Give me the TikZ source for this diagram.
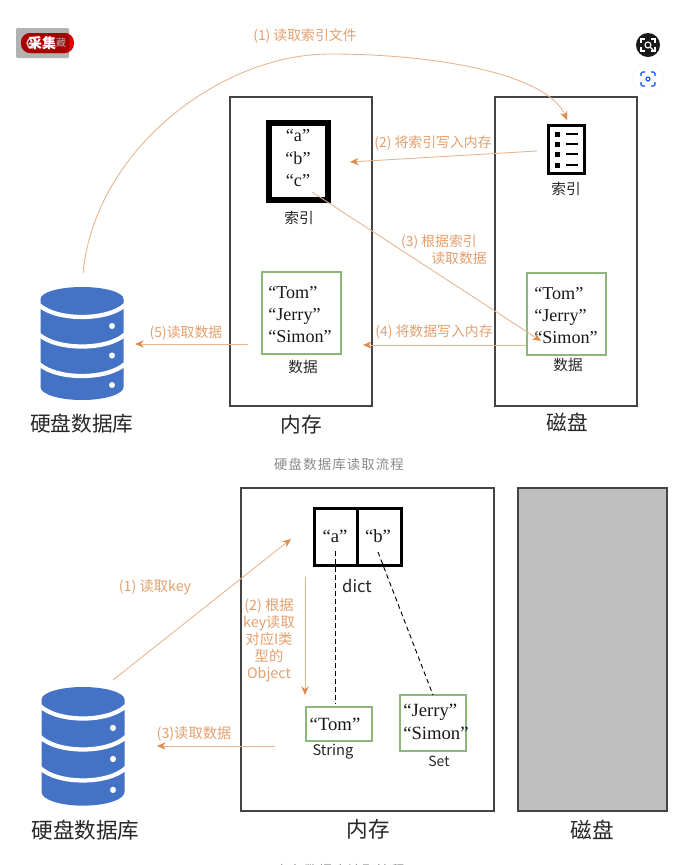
\documentclass[tikz,border=0pt]{standalone}
\usepackage{fontspec}
\usetikzlibrary{arrows.meta}
\setmainfont{Noto Sans CJK SC}
\newfontfamily\quotefont{Liberation Serif}
\definecolor{flow}{HTML}{E08A4C}
\definecolor{flowline}{HTML}{E8B48C}
\definecolor{flowtext}{HTML}{E3A06E}
\definecolor{boxline}{HTML}{444444}
\definecolor{greenbox}{HTML}{8DB67A}
\definecolor{dbblue}{HTML}{4472C4}
\definecolor{captiongray}{HTML}{8A8A8A}
\tikzset{
  flowarrow/.style={draw=flowline, line width=0.65pt, -{Stealth[length=6.5pt,width=5.5pt,color=flow]}},
  region/.style={draw=boxline, line width=0.9pt, fill=white},
  thickbox/.style={draw=black, line width=4.5pt, fill=white},
  databox/.style={draw=greenbox, line width=0.9pt, fill=white},
  flowlabel/.style={text=flowtext, font=\fontsize{10.4}{12}\selectfont, inner sep=0pt, align=center, text height=8.5pt, text depth=2pt, yshift=-1.2pt},
  flowlabelb/.style={flowlabel, font=\fontsize{10.7}{12}\selectfont},
  biglabel/.style={text=black!85, font=\fontsize{15.5}{18}\selectfont, inner sep=0pt, yshift=-0.6pt},
  biglabelb/.style={biglabel, font=\fontsize{16.2}{18}\selectfont},
  smalllabel/.style={text=black!85, font=\fontsize{11}{13}\selectfont, inner sep=0pt, yshift=-0.5pt},
  quoted/.style={text=black!90, font=\quotefont\fontsize{13.6}{15}\selectfont, inner sep=0pt, text height=9pt, text depth=3pt, yshift=-1.4pt},
  quotedb/.style={quoted, font=\quotefont\fontsize{14}{15}\selectfont},
  caption/.style={text=captiongray, font=\fontsize{10}{12}\selectfont\addfontfeatures{LetterSpace=9}, inner sep=0pt},
  dblink/.style={draw=black, line width=0.7pt, dash pattern=on 3.5pt off 2.5pt},
  pics/dbicon/.style={code={
    \fill[dbblue] (-41.5,12) -- (-41.5,100) arc[start angle=180,end angle=360,x radius=41.5,y radius=-13] -- (41.5,12) -- cycle;
    \foreach \dy in {0,29.5,59}{
      \draw[white,line width=3.2pt] (-43,\dy+18) .. controls (-25,\dy+34) and (25,\dy+34) .. (43,\dy+18);
    }
    \fill[dbblue] (0,12) ellipse[x radius=41.5,y radius=12];
    \foreach \dy in {39,68.5,98}{
      \fill[white] (30,\dy) circle[radius=3];
    }
  }}
}
\begin{document}
\begin{tikzpicture}[x=0.75pt,y=-0.75pt]
\useasboundingbox (0,0) rectangle (690,865);
\clip (0,0) rectangle (690,865);
\fill[white] (0,0) rectangle (690,865);

% overlay badge and buttons
\fill[black!30,rounded corners=1pt] (16,28) rectangle (69,58);
\fill[red!88!black,rounded corners=7pt] (21,33) rectangle (74,53);
\begin{scope}
\clip (16,28) rectangle (69,58);
\fill[red!65!black,rounded corners=7pt] (21,33) rectangle (74,53);
\end{scope}
\draw[black!20,line width=1pt] (32,43) circle[radius=5];
\node[inner sep=0pt,text=white,font=\fontsize{10.5}{12}\selectfont\bfseries] (badge) at (42,43) {采集};
\node[inner sep=0pt,text=black!30,font=\fontsize{7.5}{8}\selectfont] (badgeb) at (61,43) {藏};
\fill[black!90] (648,45) circle[radius=12];
\draw[white,line width=0.8pt] (648,45) circle[radius=3];
\draw[white,line width=0.8pt] (650.5,47.5) -- (653,50);
\draw[white,line width=0.8pt] (641,43) -- (641,39) -- (645,39) (651,39) -- (655,39) -- (655,43) (655,47) -- (655,51) -- (651,51) (645,51) -- (641,51) -- (641,47);
\fill[black!3] (648,79) circle[radius=16];
\fill[white] (648,79) circle[radius=15];
\draw[blue!70!cyan,line width=0.8pt,rounded corners=1pt] (641,76) -- (641,72) -- (645,72) (651,72) -- (655,72) -- (655,76) (655,82) -- (655,86) -- (651,86) (645,86) -- (641,86) -- (641,82);
\draw[blue!70!cyan,line width=0.8pt] (648,79) circle[radius=2];

% === top diagram ===
\draw[region] (230,97) rectangle (372,406);
\draw[region] (495,97) rectangle (637,406);

\pic at (82,287) {dbicon};
\node[biglabel] (dblabel1) at (82,423) {硬盘数据库};
\node[biglabel] (memlabel1) at (301,424) {内存};
\node[biglabel] (disklabel1) at (567,422) {磁盘};
\node[caption] (cap1) at (339,464) {硬盘数据库读取流程};

% memory index
\draw[thickbox] (269,123) rectangle (328,200);
\node[quoted] (qa) at (298,136) {“a”};
\node[quoted] (qb) at (298,158.5) {“b”};
\node[quoted] (qc) at (298,180.5) {“c”};
\node[smalllabel] (idx1) at (299,217) {索引};

% memory data
\draw[databox] (262,272) rectangle (341,354);
\node[quoted,anchor=west] (mt) at (268,293) {“Tom”};
\node[quoted,anchor=west] (mj) at (268,315) {“Jerry”};
\node[quoted,anchor=west] (ms) at (268,337) {“Simon”};
\node[smalllabel] (dat1) at (303,366) {数据};

% disk index icon
\draw[draw=black,line width=2.6pt,fill=white] (548.7,125.7) rectangle (584.3,173.3);
\foreach \yy in {134,144,154,165}{
  \fill[black] (555,\yy-2.5) rectangle (560,\yy+2.5);
  \draw[black,line width=1.3pt] (566,\yy) -- (578,\yy);
}
\node[smalllabel] (idx2) at (566,188) {索引};

% disk data
\draw[databox] (527,273) rectangle (606,355);
\node[quoted,anchor=west] (dt) at (534,294) {“Tom”};
\node[quoted,anchor=west] (dj) at (534,316) {“Jerry”};
\node[quoted,anchor=west] (ds) at (534,338) {“Simon”};
\node[smalllabel] (dat2) at (568,364) {数据};

% top connectors
\coordinate (c1s) at (83,273);
\coordinate (c1m) at (330,54);
\coordinate (c1e) at (567,120);
\draw[flowarrow] (c1s) .. controls (95,150) and (220,54) .. (c1m) .. controls (440,54) and (548,75) .. (c1e);
\coordinate (c2s) at (537,151);
\coordinate (c2e) at (350,162);
\draw[flowarrow] (c2s) -- (c2e);
\coordinate (c3s) at (312,192);
\coordinate (c3e) at (541,341);
\draw[flowarrow] (c3s) -- (c3e);
\coordinate (c4s) at (526,345);
\coordinate (c4e) at (363,345);
\draw[flowarrow] (c4s) -- (c4e);
\coordinate (c5s) at (248,344);
\coordinate (c5e) at (135,344);
\draw[flowarrow] (c5s) -- (c5e);

\node[flowlabel] (l1) at (305,35) {(1) 读取索引文件};
\node[flowlabel] (l2) at (433,142) {(2) 将索引写入内存};
\node[flowlabel] (l3a) at (439,241) {(3) 根据索引};
\node[flowlabel] (l3b) at (459,258) {读取数据};
\node[flowlabel] (l4) at (434,331) {(4) 将数据写入内存};
\node[flowlabel] (l5) at (186,332) {(5)读取数据};

% === bottom diagram ===
\draw[region] (241,488) rectangle (494,811);
\draw[draw=boxline,line width=0.9pt,fill=black!25] (518,488) rectangle (667,811);
\pic[yscale=1.05] at (83,687) {dbicon};
\node[biglabelb] (dblabel2) at (85.5,829) {硬盘数据库};
\node[biglabelb] (memlabel2) at (368,829) {内存};
\node[biglabelb] (disklabel2) at (592,829) {磁盘};
\node[caption] (cap2) at (340,870) {内存数据库读取流程};

% dict
\draw[thickbox,line width=2.6pt] (314.7,508.7) rectangle (401.3,565.3);
\draw[black,line width=2.6pt] (357.5,508.7) -- (357.5,565.3);
\node[quotedb] (ka) at (335,537) {“a”};
\node[quotedb] (kb) at (378,537) {“b”};
\node[smalllabel,font=\fontsize{12.5}{14}\selectfont] (dictl) at (357,585) {dict};

% objects
\draw[databox] (306,707) rectangle (372,741);
\node[quotedb] (vtom) at (335,725) {“Tom”};
\node[smalllabel] (strl) at (333,751) {String};
\draw[databox] (400,695) rectangle (466,751);
\node[quotedb,anchor=west] (vj) at (403,711) {“Jerry”};
\node[quotedb,anchor=west] (vs) at (403,734) {“Simon”};
\node[smalllabel,font=\fontsize{10.5}{12}\selectfont] (setl) at (439,761) {Set};

\coordinate (da) at (335,551);
\coordinate (dat) at (335,704);
\coordinate (db) at (378,552);
\coordinate (dbt) at (433,695);
\draw[dblink] (da) -- (dat);
\draw[dblink] (db) -- (dbt);

\coordinate (b1s) at (113,680);
\coordinate (b1e) at (291,539);
\draw[flowarrow] (b1s) -- (b1e);
\coordinate (b2s) at (305,577);
\coordinate (b2e) at (305,695);
\draw[flowarrow] (b2s) -- (b2e);
\coordinate (b3s) at (275,746);
\coordinate (b3e) at (157,746);
\draw[flowarrow] (b3s) -- (b3e);

\node[flowlabelb] (bl1) at (155,586) {(1) 读取key};
\node[flowlabelb] (bl2a) at (269,605) {(2) 根据};
\node[flowlabelb] (bl2b) at (269,622) {key读取};
\node[flowlabelb] (bl2c) at (269,639) {对应I类};
\node[flowlabelb] (bl2d) at (269,656) {型的};
\node[flowlabelb] (bl2e) at (269,673) {Object};
\node[flowlabelb] (bl3) at (194,733) {(3)读取数据};
\end{tikzpicture}
\end{document}
